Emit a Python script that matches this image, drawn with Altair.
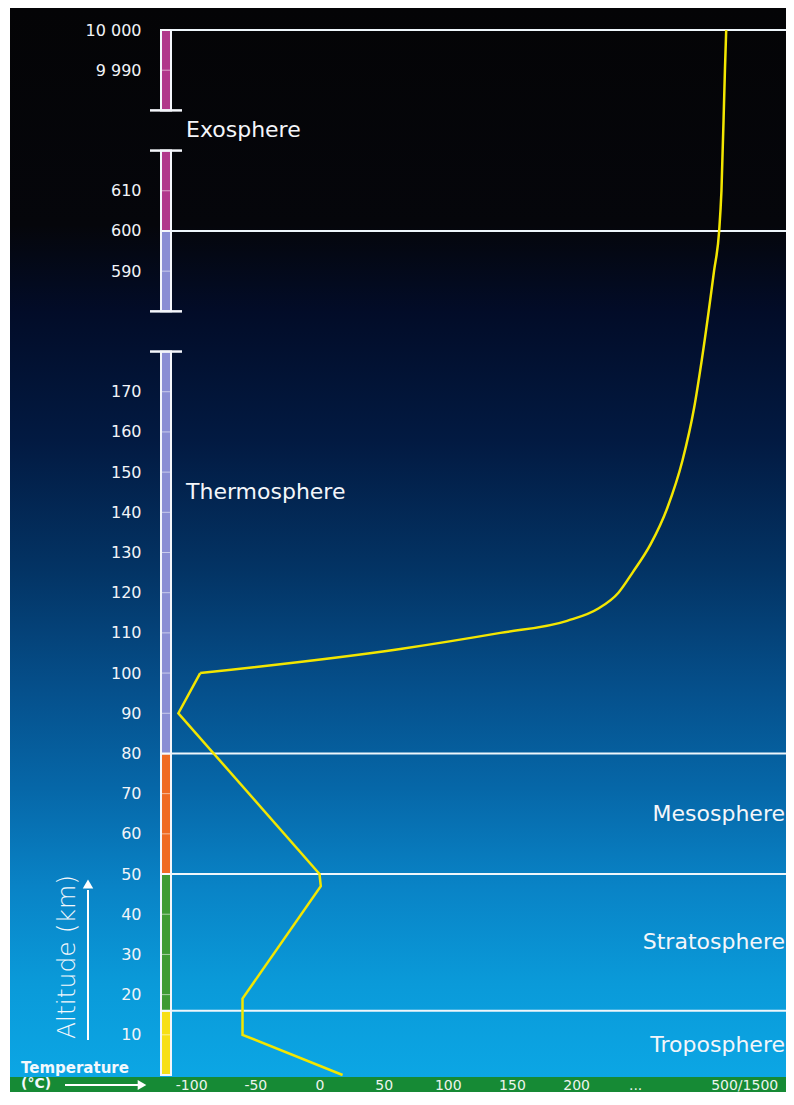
import altair as alt
import pandas as pd

# ---------------- data ----------------
# altitude tick marks (km) and their labels
tick_km = [10, 20, 30, 40, 50, 60, 70, 80, 90, 100, 110, 120, 130, 140, 150, 160, 170,
           590, 600, 610, 9990, 10000]
tick_labels = ["10", "20", "30", "40", "50", "60", "70", "80", "90", "100", "110", "120",
               "130", "140", "150", "160", "170", "590", "600", "610", "9 990", "10 000"]
# axis breaks (km) – ends of the pieces of the altitude bar
break_km = [180, 580, 620, 9980]
# layer boundaries (km)
boundary_km = [10000, 600, 80, 50, 16]
# coloured altitude bar segments
seg_start_km = [0, 16, 50, 80, 580, 600, 9980]
seg_end_km = [16, 50, 80, 180, 600, 620, 10000]
seg_colors = ["#f7df16", "#3f9b33", "#f06a23", "#8a8ed4", "#8a8ed4", "#b1378b", "#b1378b"]

# temperature profile (display temperature on the broken axis)
lower_alt_km = [0, 10, 19, 47, 50, 90, 100]
lower_temp = [18, -60, -60, 1, 0, -110, -93]
upper_alt_km = [100, 106, 110, 113, 116, 120, 125, 132, 141, 153, 166, 178,
                590, 600, 610, 9990, 10000]
upper_temp = [-93, 63, 141, 193, 217, 233, 244, 258, 271, 283, 292, 298,
              307.5, 311.5, 313.3, 316, 317]

# temperature axis
temp_tick_values = [-100, -50, 0, 50, 100, 150, 200, 246, 331]
temp_tick_labels = ["-100", "-50", "0", "50", "100", "150", "200", "...", "500/1500"]

# layer names and where they sit on the (broken) altitude scale
layer_names_left = ["Exosphere", "Thermosphere"]
layer_pos_left = [23.5, 14.5]
layer_names_right = ["Mesosphere", "Stratosphere", "Troposphere"]
layer_pos_right = [6.5, 3.3, 0.75]


# ---------------- broken altitude scale ----------------
def to_pos(km):
    if km <= 180:
        return km / 10
    if km <= 620:
        return 20 + (km - 590) / 10
    return 25 + (km - 9990) / 10


TOP = 8          # page y of the chart's top edge
LEFT = 10        # page x of the plot's left edge
W, H = 776, 1084
FONT = "DejaVu Sans"

# pixel targets of the plot frame -> scale domains
y0_abs, y26_abs = 1075, 30
px_per_unit = (y0_abs - y26_abs) / 26
y_lo = -(TOP + H - y0_abs) / px_per_unit
y_hi = y_lo + H / px_per_unit
x_lo = (LEFT - 319.5) / 1.283
x_hi = (LEFT + W - 319.5) / 1.283

tick_pos = [to_pos(k) for k in tick_km]
y_expr = "".join(
    f"abs(datum.value - {p}) < 0.01 ? '{l}' : " for p, l in zip(tick_pos, tick_labels)
) + "''"
x_expr = "".join(
    f"abs(datum.value - ({v})) < 0.01 ? '{l}' : " for v, l in zip(temp_tick_values, temp_tick_labels)
) + "''"

yscale = alt.Scale(domain=[y_lo, y_hi], nice=False, zero=False)
xscale = alt.Scale(domain=[x_lo, x_hi], nice=False, zero=False)

yaxis = alt.Axis(values=tick_pos, labelExpr=y_expr, orient="left", offset=-(141 - LEFT),
                 labelPadding=0, tickSize=0, ticks=False, domain=False, grid=False,
                 labelAlign="right", labelBaseline="middle", labelColor="#f2f4f8",
                 labelFont=FONT, labelFontSize=16, labelOverlap=False, labelFlush=False,
                 title=None, zindex=2)
xaxis = alt.Axis(values=temp_tick_values, labelExpr=x_expr, orient="bottom", offset=-7,
                 labelPadding=0, tickSize=0, ticks=False, domain=False, grid=False,
                 labelAlign="center", labelBaseline="middle", labelColor="#eef4ee",
                 labelFont=FONT, labelFontSize=14, labelOverlap=False, labelFlush=False,
                 title=None, zindex=2)


def Y(field):
    return alt.Y(field, type="quantitative", scale=yscale, axis=yaxis)


def X(field):
    return alt.X(field, type="quantitative", scale=xscale, axis=xaxis)


def py(abs_y):
    return abs_y - TOP


def px(abs_x):
    return abs_x - LEFT


one = pd.DataFrame({"d": [0]})

# background gradient (sky)
sky = alt.Gradient(
    gradient="linear", x1=0, x2=0, y1=0, y2=1,
    stops=[
        alt.GradientStop(color="#040406", offset=0.0),
        alt.GradientStop(color="#05060b", offset=0.20),
        alt.GradientStop(color="#020c28", offset=0.28),
        alt.GradientStop(color="#021a42", offset=0.40),
        alt.GradientStop(color="#033465", offset=0.52),
        alt.GradientStop(color="#05508c", offset=0.63),
        alt.GradientStop(color="#0667a8", offset=0.72),
        alt.GradientStop(color="#0983c6", offset=0.81),
        alt.GradientStop(color="#0a9ad9", offset=0.90),
        alt.GradientStop(color="#0ca8e6", offset=1.0),
    ],
)
bg = alt.Chart(one).mark_rect(color=sky).encode(
    x=alt.value(0), x2=alt.value(W), y=alt.value(0), y2=alt.value(H))

ground = alt.Chart(one).mark_rect(color="#168a35").encode(
    x=alt.value(0), x2=alt.value(W), y=alt.value(py(1077)), y2=alt.value(H))

segs = pd.DataFrame({
    "y0": [to_pos(k) for k in seg_start_km],
    "y1": [to_pos(k) for k in seg_end_km],
    "c": seg_colors,
})
bar = alt.Chart(segs).mark_rect(stroke="#f4f6fb", strokeWidth=2).encode(
    x=alt.value(px(161)), x2=alt.value(px(171)), y=Y("y0"), y2="y1",
    color=alt.Color("c:N", scale=None))

ticks_df = pd.DataFrame({"pos": tick_pos})
bar_ticks = alt.Chart(ticks_df).mark_rule(color="#ffffff", opacity=0.55, strokeWidth=1).encode(
    x=alt.value(px(162)), x2=alt.value(px(170)), y=Y("pos"))

caps_df = pd.DataFrame({"pos": [to_pos(k) for k in break_km]})
caps = alt.Chart(caps_df).mark_rule(color="#f4f6fb", strokeWidth=2.5).encode(
    x=alt.value(px(150)), x2=alt.value(px(182)), y=Y("pos"))

bnd_df = pd.DataFrame({"pos": [to_pos(k) for k in boundary_km]})
bounds = alt.Chart(bnd_df).mark_rule(color="#eef6fb", strokeWidth=2).encode(
    x=alt.value(px(171)), x2=alt.value(W), y=Y("pos"))

low_df = pd.DataFrame({"pos": [to_pos(k) for k in lower_alt_km], "temp": lower_temp})
line_low = alt.Chart(low_df).mark_line(color="#f3e600", strokeWidth=2.5,
                                       interpolate="linear").encode(
    x=X("temp"), y=Y("pos"), order=alt.Order("pos:Q"))

up_df = pd.DataFrame({"pos": [to_pos(k) for k in upper_alt_km], "temp": upper_temp})
line_up = alt.Chart(up_df).mark_line(color="#f3e600", strokeWidth=2.5,
                                     interpolate="monotone").encode(
    x=X("temp"), y=Y("pos"), order=alt.Order("temp:Q"))

lab_l = alt.Chart(pd.DataFrame({"name": layer_names_left, "pos": layer_pos_left})).mark_text(
    align="left", baseline="middle", font=FONT, fontSize=22, color="#f4f6fa").encode(
    x=alt.value(px(186)), y=Y("pos"), text="name:N")
lab_r = alt.Chart(pd.DataFrame({"name": layer_names_right, "pos": layer_pos_right})).mark_text(
    align="right", baseline="middle", font=FONT, fontSize=22, color="#f4f6fa").encode(
    x=alt.value(px(785)), y=Y("pos"), text="name:N")

alt_title = alt.Chart(one).mark_text(
    text="Altitude (km)", angle=270, align="center", baseline="middle",
    font=FONT, fontSize=25, fontWeight=200, color="#f4f8fc").encode(
    x=alt.value(px(67)), y=alt.value(py(957)))
alt_arrow = alt.Chart(one).mark_rule(color="#ffffff", strokeWidth=2).encode(
    x=alt.value(px(88)), y=alt.value(py(1040)), y2=alt.value(py(890)))
alt_head = alt.Chart(one).mark_point(shape="triangle-up", filled=True, color="#ffffff",
                                     size=110, opacity=1).encode(
    x=alt.value(px(88)), y=alt.value(py(884)))

temp_title = alt.Chart(one).mark_text(
    text="Temperature", align="left", baseline="middle", font=FONT, fontSize=15,
    fontWeight="bold", color="#f4f8fc").encode(x=alt.value(px(21)), y=alt.value(py(1068)))
temp_unit = alt.Chart(one).mark_text(
    text="(°C)", align="left", baseline="middle", font=FONT, fontSize=14,
    fontWeight="bold", color="#f4f8fc").encode(x=alt.value(px(21)), y=alt.value(py(1084)))
temp_arrow = alt.Chart(one).mark_rule(color="#ffffff", strokeWidth=2).encode(
    x=alt.value(px(65)), x2=alt.value(px(138)), y=alt.value(py(1085)))
temp_head = alt.Chart(one).mark_point(shape="triangle-right", filled=True, color="#ffffff",
                                      size=100, opacity=1).encode(
    x=alt.value(px(142)), y=alt.value(py(1085)))

chart = alt.layer(
    bg, ground, bar, bar_ticks, caps, bounds, line_low, line_up, lab_l, lab_r,
    alt_title, alt_arrow, alt_head, temp_title, temp_unit, temp_arrow, temp_head,
).properties(
    width=W, height=H,
    autosize=alt.AutoSizeParams(type="none"),
    padding={"left": LEFT - 8, "top": 0, "right": 0, "bottom": 0},
).configure_view(stroke=None)

chart.save("out.html", embed_options={"renderer": "svg", "actions": False})
